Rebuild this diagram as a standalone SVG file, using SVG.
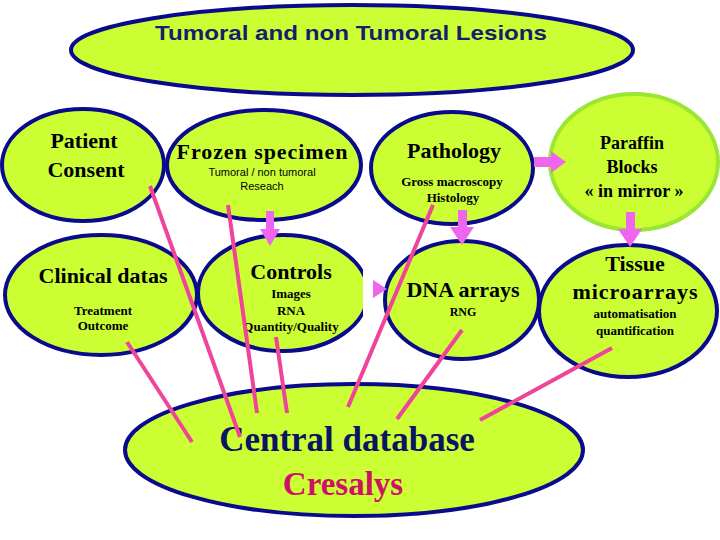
<svg xmlns="http://www.w3.org/2000/svg" width="720" height="540" viewBox="0 0 720 540">
<style>
.node{fill:#ccff33;stroke:#0a0a8c;stroke-width:4}
.t{font-family:"Liberation Serif",serif;font-weight:bold;fill:#000;text-anchor:middle}
.big{font-size:22px}
.mid{font-size:18px}
.sm{font-size:13px}
.sans{font-family:"Liberation Sans",sans-serif;font-size:11px;fill:#000;text-anchor:middle}
.link{stroke:#ee4499;stroke-width:4;fill:none;stroke-linecap:butt}
.arr{fill:#ee66ee}
</style>
<rect width="720" height="540" fill="#fff"/>
<g id="lesions">
<ellipse class="node" cx="352" cy="50" rx="281" ry="45"/>
<text x="351" y="40" style="font-family:'Liberation Sans',sans-serif;font-size:21px;font-weight:bold;fill:#14206e;text-anchor:middle" textLength="392" lengthAdjust="spacingAndGlyphs">Tumoral and non Tumoral Lesions</text>
</g>
<g id="consent">
<ellipse class="node" cx="83" cy="165" rx="81" ry="56"/>
<text class="t big" x="84" y="148">Patient</text>
<text class="t big" x="86" y="177">Consent</text>
</g>
<g id="frozen">
<ellipse class="node" cx="264" cy="165" rx="97" ry="55"/>
<text class="t big" x="262" y="159" textLength="171">Frozen specimen</text>
<text class="sans" x="262" y="176">Tumoral / non tumoral</text>
<text class="sans" x="262" y="190">Reseach</text>
</g>
<g id="pathology">
<ellipse class="node" cx="452" cy="168" rx="81" ry="56"/>
<text class="t big" x="454" y="158">Pathology</text>
<text class="t sm" x="452" y="186">Gross macroscopy</text>
<text class="t sm" x="453" y="202">Histology</text>
</g>
<g id="paraffin">
<ellipse cx="634" cy="162" rx="84" ry="68" fill="#ccff33" stroke="#99e633" stroke-width="4"/>
<text class="t mid" x="632" y="149">Paraffin</text>
<text class="t mid" x="632" y="173">Blocks</text>
<text class="t mid" x="634" y="197">« in mirror »</text>
</g>
<g id="clinical">
<ellipse class="node" cx="101" cy="295" rx="96" ry="60"/>
<text class="t big" x="103" y="283">Clinical datas</text>
<text class="t sm" x="103" y="315">Treatment</text>
<text class="t sm" x="103" y="330">Outcome</text>
</g>
<g id="controls">
<ellipse class="node" cx="283" cy="293" rx="85" ry="58"/>
<rect x="363" y="254" width="8" height="76" fill="#fff"/>
<text class="t big" x="291" y="279">Controls</text>
<text class="t sm" x="291" y="298">Images</text>
<text class="t sm" x="291" y="315">RNA</text>
<text class="t sm" x="291" y="331">Quantity/Quality</text>
</g>
<g id="dna">
<ellipse class="node" cx="462" cy="300" rx="77" ry="59"/>
<text class="t big" x="463" y="297">DNA arrays</text>
<text class="t" style="font-size:12px" x="463" y="316">RNG</text>
</g>
<g id="tma">
<ellipse class="node" cx="628" cy="311" rx="89" ry="66"/>
<text class="t big" x="635" y="271">Tissue</text>
<text class="t big" x="635" y="299" textLength="125">microarrays</text>
<text class="t sm" x="635" y="318">automatisation</text>
<text class="t sm" x="635" y="335">quantification</text>
</g>
<g id="central">
<ellipse class="node" cx="354" cy="450" rx="229" ry="66"/>
<text class="t" style="font-size:35px;fill:#0a1460" x="347" y="451">Central database</text>
<text class="t" style="font-size:33px;fill:#cc1166" x="343" y="495">Cresalys</text>
</g>
<g id="connectors">
<line class="link" x1="127" y1="342" x2="192" y2="442"/>
<line class="link" x1="150" y1="186" x2="240" y2="437"/>
<line class="link" x1="228" y1="205" x2="257" y2="413"/>
<line class="link" x1="276" y1="337" x2="287" y2="413"/>
<line class="link" x1="433" y1="205" x2="348" y2="407"/>
<line class="link" x1="462" y1="330" x2="397" y2="419"/>
<line class="link" x1="612" y1="348" x2="480" y2="420"/>
<polygon class="arr" points="266,211 274,211 274,229 280,229 270,246 260,229 266,229"/>
<polygon class="arr" points="458,210 467,210 467,227 474,227 462,245 450,227 458,227"/>
<polygon class="arr" points="626,212 635,212 635,229 642,229 630,247 618,229 626,229"/>
<polygon class="arr" points="534,157 551,157 551,151 566,162 551,173 551,167 534,167"/>
<polygon class="arr" points="373,280 387,289 373,298"/>
</g>
</svg>
